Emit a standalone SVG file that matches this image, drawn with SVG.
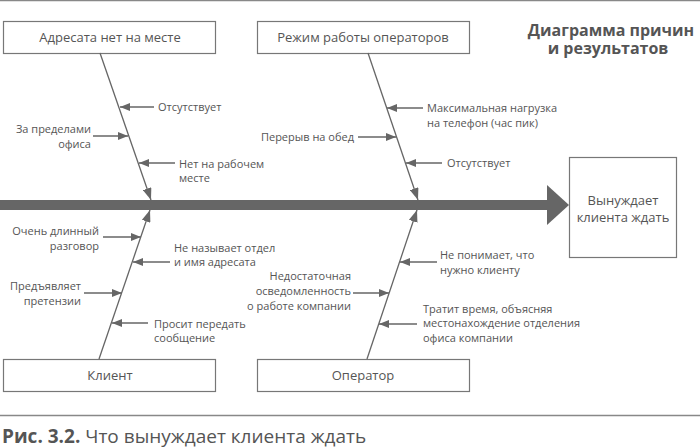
<svg xmlns="http://www.w3.org/2000/svg" width="700" height="448" viewBox="0 0 700 448">
<defs>
<marker id="ah" viewBox="0 0 10 8" refX="10" refY="4" markerWidth="10" markerHeight="8" markerUnits="userSpaceOnUse" orient="auto"><path d="M0,0 L10,4 L0,8 Z" fill="#666"/></marker>
<marker id="bh" viewBox="0 0 12 9" refX="12" refY="4.5" markerWidth="12" markerHeight="9" markerUnits="userSpaceOnUse" orient="auto"><path d="M0,0 L12,4.5 L0,9 Z" fill="#666"/></marker>
</defs>
<style>
.box{fill:#fff;stroke:#777;stroke-width:1.2}
.bt{font-family:"Open Sans","Liberation Sans",sans-serif;font-size:13px;fill:#555;text-anchor:middle}
.t{font-family:"Open Sans","Liberation Sans",sans-serif;font-size:11px;fill:#555}
.r{text-anchor:end}
.sub{stroke:#666;stroke-width:1.3;fill:none;marker-end:url(#ah)}
.bone{stroke:#666;stroke-width:1.3;fill:none;marker-end:url(#bh)}
.title{font-family:"Open Sans","Liberation Sans",sans-serif;font-size:16px;font-weight:bold;fill:#555;text-anchor:middle}
</style>
<rect width="700" height="448" fill="#fff"/>
<line x1="0" y1="0.5" x2="700" y2="0.5" stroke="#888" stroke-width="1.5"/>
<g id="title">
<text class="title" x="611" y="36">Диаграмма причин</text>
<text class="title" x="608" y="54">и результатов</text>
</g>
<g id="spine">
<rect x="0" y="200" width="549" height="10" fill="#666"/>
<path d="M547,185 L569,205 L547,225 Z" fill="#666"/>
</g>
<g id="n-top-left"><rect class="box" x="3.5" y="21.5" width="212" height="32"/><text class="bt" x="110" y="42">Адресата нет на месте</text></g>
<g id="n-top-right"><rect class="box" x="257.5" y="21.5" width="212" height="32"/><text class="bt" x="363" y="42">Режим работы операторов</text></g>
<g id="n-bottom-left"><rect class="box" x="3.5" y="359.5" width="212" height="32"/><text class="bt" x="110" y="380">Клиент</text></g>
<g id="n-bottom-right"><rect class="box" x="257.5" y="359.5" width="212" height="32"/><text class="bt" x="363" y="380">Оператор</text></g>
<g id="n-result"><rect class="box" x="569.5" y="157.5" width="107" height="100"/><text class="bt" x="623" y="205">Вынуждает</text><text class="bt" x="623" y="222">клиента ждать</text></g>
<g id="connectors">
<line class="bone" x1="100" y1="53" x2="151" y2="200"/>
<line class="bone" x1="368" y1="53" x2="418" y2="200"/>
<line class="bone" x1="99" y1="359" x2="150" y2="210"/>
<line class="bone" x1="367" y1="359" x2="417" y2="210"/>
<line class="sub" x1="154" y1="107" x2="120" y2="107"/>
<line class="sub" x1="93" y1="136" x2="128" y2="136"/>
<line class="sub" x1="175" y1="163" x2="139" y2="163"/>
<line class="sub" x1="423" y1="108" x2="387" y2="108"/>
<line class="sub" x1="358" y1="137" x2="396" y2="137"/>
<line class="sub" x1="442" y1="163" x2="406" y2="163"/>
<line class="sub" x1="103" y1="237" x2="141" y2="237"/>
<line class="sub" x1="170" y1="262" x2="133" y2="262"/>
<line class="sub" x1="84" y1="293" x2="122" y2="293"/>
<line class="sub" x1="148" y1="323" x2="112" y2="323"/>
<line class="sub" x1="437" y1="262" x2="400" y2="262"/>
<line class="sub" x1="353" y1="293" x2="389" y2="293"/>
<line class="sub" x1="417" y1="324" x2="379" y2="324"/>
</g>
<g id="labels">
<text class="t" x="158" y="111">Отсутствует</text>
<text class="t r" x="91" y="133">За пределами</text>
<text class="t r" x="91" y="148">офиса</text>
<text class="t" x="179" y="168">Нет на рабочем</text>
<text class="t" x="179" y="182">месте</text>
<text class="t" x="427" y="112">Максимальная нагрузка</text>
<text class="t" x="427" y="127">на телефон (час пик)</text>
<text class="t r" x="354" y="141">Перерыв на обед</text>
<text class="t" x="447" y="167">Отсутствует</text>
<text class="t r" x="99" y="235">Очень длинный</text>
<text class="t r" x="99" y="250">разговор</text>
<text class="t" x="174" y="252">Не называет отдел</text>
<text class="t" x="174" y="266">и имя адресата</text>
<text class="t r" x="81" y="290">Предъявляет</text>
<text class="t r" x="81" y="305">претензии</text>
<text class="t" x="154" y="328">Просит передать</text>
<text class="t" x="154" y="342">сообщение</text>
<text class="t" x="440" y="259">Не понимает, что</text>
<text class="t" x="440" y="274">нужно клиенту</text>
<text class="t r" x="351" y="280">Недостаточная</text>
<text class="t r" x="351" y="295">осведомленность</text>
<text class="t r" x="351" y="310">о работе компании</text>
<text class="t" x="423" y="313">Тратит время, объясняя</text>
<text class="t" x="423" y="327">местонахождение отделения</text>
<text class="t" x="423" y="342">офиса компании</text>
</g>
<line x1="0" y1="415.5" x2="700" y2="415.5" stroke="#888" stroke-width="1.5"/>
<text x="2" y="443" font-family="'Open Sans','Liberation Sans',sans-serif" font-size="19" fill="#555"><tspan font-weight="bold">Рис. 3.2.</tspan> Что вынуждает клиента ждать</text>
</svg>
